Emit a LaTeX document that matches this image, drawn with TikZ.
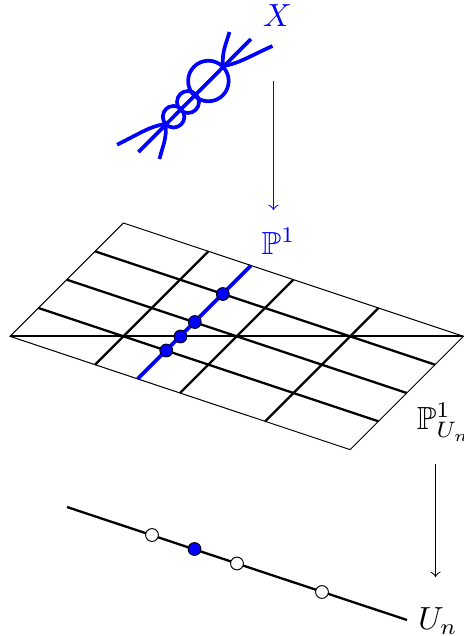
\documentclass[tikz,border=0pt]{standalone}
\usepackage{amsmath,amssymb}
\tikzset{
  thinline/.style={line width=0.32pt,black},
  gridline/.style={line width=0.72pt,black},
  bluecurve/.style={line width=1.15pt,blue,line cap=butt},
  bluedot/.style={circle,draw=black,line width=0.3pt,fill=blue,minimum size=4pt,inner sep=0pt},
  whitedot/.style={circle,draw=black,line width=0.3pt,fill=white,minimum size=4pt,inner sep=0pt},
  lbl/.style={inner sep=0pt},
}
\begin{document}
\begin{tikzpicture}[x=0.3125pt,y=-0.3125pt]
\useasboundingbox (0,0) rectangle (463,636);
% grid coordinates
\foreach \i in {0,...,4}{\foreach \j in {0,...,4}{
  \coordinate (g\i\j) at ({123.4+85*\i-28.33*\j},{223+28.33*\i+28.33*\j});
}}
\coordinate (bt) at ({123.4+85*1.5},{223+28.33*1.5});
\coordinate (bb) at ({123.4+85*1.5-28.33*4},{223+28.33*1.5+28.33*4});
% outer parallelogram
\draw[thinline] (g00) -- (g40) -- (g44) -- (g04) -- cycle;
% interior lines
\foreach \j in {1,2,3}{\draw[gridline] (g0\j) -- (g4\j);}
\foreach \i in {1,2,3}{\draw[gridline] (g\i0) -- (g\i4);}
\draw[gridline] (g04) -- (g40);
% blue fibre
\draw[bluecurve] (bt) -- (bb);
\node[bluedot] (d1) at (222.8,294) {};
\node[bluedot] (d2) at (194.8,322) {};
\node[bluedot] (d3) at (180.5,336.5) {};
\node[bluedot] (d4) at (166.3,350.5) {};
% base curve
\coordinate (ua) at (67,507);
\coordinate (ub) at (407,620);
\draw[gridline] (ua) -- (ub);
\node[whitedot] (p1) at (152,535) {};
\node[bluedot] (p2) at (194.5,549) {};
\node[whitedot] (p3) at (237,563.5) {};
\node[whitedot] (p4) at (322,592) {};
% curve X
\coordinate (xa) at (138.5,152);
\coordinate (xb) at (251,39);
\coordinate (xu) at (223,66);
\coordinate (xl) at (165.5,124);
\coordinate (xu1) at (229.5,32);
\coordinate (xu2) at (272.5,46);
\coordinate (xl1) at (117,144.7);
\coordinate (xl2) at (159.5,159);
\draw[bluecurve] (xa) -- (xb);
\draw[bluecurve] (208.4,81) circle (20.3);
\draw[bluecurve] (188,102) circle (11);
\draw[bluecurve] (173.6,116.7) circle (10.8);
\draw[bluecurve] (xu1) .. controls (225,47) and (222,52) .. (xu);
\draw[bluecurve] (xu2) .. controls (250,56) and (238,64) .. (xu);
\draw[bluecurve] (xl1) .. controls (139,134) and (150,126) .. (xl);
\draw[bluecurve] (xl2) .. controls (163,145) and (167,138) .. (xl);
% labels
\node[lbl,blue] (lx) at (277.5,16) {$X$};
\node[lbl,blue] (lp) at (278.5,241) {$\mathbb{P}^1$};
\node[lbl,black] (lpu) at (444,422) {$\mathbb{P}^1_{U_n}$};
\node[lbl] (lu) at (438,621) {$U_n$};
% arrows
\coordinate (ba) at (273.5,81);
\coordinate (bz) at (273.5,210);
\coordinate (ka) at (435.5,464);
\coordinate (kz) at (435.5,577);
\draw[->,blue,line width=0.32pt] (ba) -- (bz);
\draw[->,black,line width=0.32pt] (ka) -- (kz);
\end{tikzpicture}
\end{document}
